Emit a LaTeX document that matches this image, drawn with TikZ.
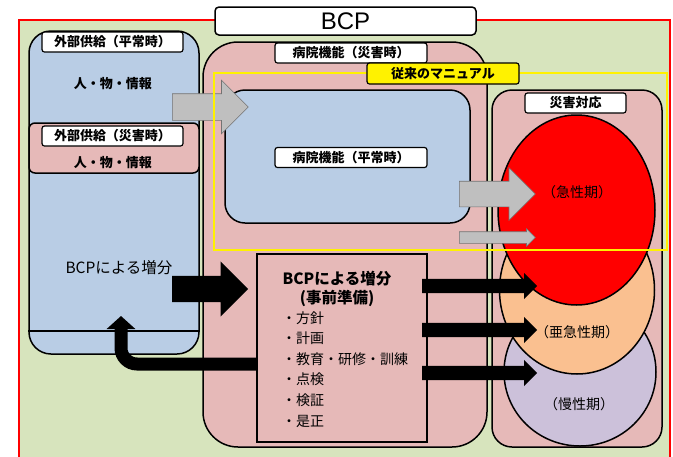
\documentclass[tikz,border=0pt]{standalone}
\usepackage{fontspec}
\setmainfont{Noto Sans CJK JP}
\newfontfamily\latinfont{Liberation Sans}
\usepackage{tikz}
\usetikzlibrary{positioning,%
  shapes.geometric,%
  shapes.arrows,%
  arrows.meta}

\definecolor{bggreen}{HTML}{D7E4BD}
\definecolor{panelblue}{HTML}{B9CDE5}
\definecolor{panelpink}{HTML}{E6B9B8}
\definecolor{acutered}{HTML}{FF0000}
\definecolor{subpeach}{HTML}{FAC090}
\definecolor{chronlilac}{HTML}{CCC1DA}
\definecolor{arrowgray}{HTML}{BFBFBF}

\begin{document}
\begin{tikzpicture}
                    [x=1pt, y=-1pt,
                    panel/.style={rectangle,
                        draw=black, line width=1.5pt,
                        inner sep=0pt},
                    tag/.style={rectangle,
                        rounded corners=2.5pt,
                        draw=black, line width=1.2pt,
                        fill=white, inner sep=0pt,
                        minimum height=20pt,
                        font=\fontsize{13}{15}\selectfont\bfseries},
                    phase/.style={ellipse,
                        draw=black, line width=1.5pt},
                    txt/.style={inner sep=0pt,
                        font=\fontsize{13}{15}\selectfont\bfseries},
                    phasetxt/.style={inner sep=0pt,
                        font=\fontsize{14}{16}\selectfont},
                    garrow/.style={single arrow,
                        single arrow head indent=0pt,
                        inner xsep=0pt, anchor=tail,
                        draw=black!55, line width=.6pt,
                        fill=arrowgray},
                    barrow/.style={single arrow,
                        single arrow head indent=0pt,
                        inner xsep=0pt, anchor=tail,
                        fill=black}]

                    \useasboundingbox (0,0) rectangle (673,456);
                    \clip (0,0) rectangle (673,456);
                    \draw[red, line width=1.5pt, fill=bggreen]
                        (19,20) rectangle (670,480);

                    % title
                    \node[panel, fill=white, rounded corners=4pt,
                        minimum width=261pt, minimum height=28pt,
                        font=\latinfont\fontsize{24}{26}\selectfont]
                        (title) at (345.5,21) {BCP};

                    % outside supply
                    \node[panel, fill=panelblue, rounded corners=22pt,
                        minimum width=170pt, minimum height=323pt]
                        (supply) at (114,192.5) {};
                    \draw[line width=1.5pt]
                        (supply.west |- 0,331) -- (supply.east |- 0,331);
                    \node[tag, minimum width=141pt]
                        (supnormtag) at (112.5,42) {外部供給（平常時）};
                    \node[txt] (supnorm) at (113,84) {人・物・情報};
                    \node[panel, fill=panelpink, rounded corners=6pt,
                        minimum width=170pt, minimum height=50pt]
                        (supdis) at (114,148) {};
                    \node[tag, minimum width=141pt]
                        (supdistag) at (112.5,136) {外部供給（災害時）};
                    \node[txt] (supdistxt) at (113,163) {人・物・情報};
                    \node[phasetxt, font=\fontsize{15.5}{17}\selectfont]
                        (supgain) at (119,268) {BCPによる増分};

                    % hospital
                    \node[panel, fill=panelpink, rounded corners=35pt,
                        minimum width=284pt, minimum height=405pt]
                        (hosp) at (345,244.5) {};
                    \node[tag, minimum width=152pt]
                        (hosptag) at (351,53) {病院機能（災害時）};
                    \node[panel, fill=panelblue, rounded corners=20pt,
                        minimum width=245pt, minimum height=133pt]
                        (normal) at (347.5,156.5) {};
                    \node[tag, minimum width=152pt]
                        (normaltag) at (351,157.5) {病院機能（平常時）};

                    % disaster response
                    \node[panel, fill=panelpink, rounded corners=20pt,
                        minimum width=170pt, minimum height=357pt]
                        (resp) at (577,268.5) {};
                    \node[tag, minimum width=101pt]
                        (resptag) at (575.5,103) {災害対応};
                    \node[phase, fill=chronlilac,
                        minimum width=152pt, minimum height=148pt]
                        (chronic) at (580,372) {};
                    \node[phase, fill=subpeach,
                        minimum width=155pt, minimum height=168pt]
                        (subacute) at (577,290) {};
                    \node[phase, fill=acutered,
                        minimum width=157pt, minimum height=190pt]
                        (acute) at (576.5,210) {};
                    \node[phasetxt] (acutetxt) at (577,192) {（急性期）};
                    \node[phasetxt] (subacutetxt) at (577,332) {（亜急性期）};
                    \node[phasetxt] (chronictxt) at (579,404) {（慢性期）};

                    % preparation
                    \node[panel, fill=panelpink,
                        minimum width=170pt, minimum height=188pt]
                        (prep) at (342,348) {};
                    \node[txt, align=center,
                        font=\fontsize{15.5}{19}\selectfont\bfseries]
                        (prephead) at (337,289) {BCPによる増分\\(事前準備)};
                    \node[inner sep=0pt, align=left, anchor=north west,
                        font=\fontsize{14}{20.6}\selectfont]
                        (preplist) at (282,311)
                        {・方針\\・計画\\・教育・研修・訓練\\・点検\\・検証\\・是正};

                    % arrows
                    \node[garrow, minimum height=76pt, inner ysep=13pt,
                        single arrow head extend=13.5pt]
                        (ginflow) at (172,107) {};
                    \node[barrow, minimum height=76pt, inner ysep=13pt,
                        single arrow head extend=14.5pt]
                        (binflow) at (172,289) {};
                    \coordinate (fbtip) at (121,316);
                    \draw[line width=13pt, rounded corners=16pt,
                        -{Triangle[width=28pt, length=13pt]}]
                        ([yshift=-16pt]prep.west) -- (121,364) -- (fbtip);
                    \node[garrow, minimum height=76pt, inner ysep=12.5pt,
                        single arrow head extend=13.5pt]
                        (gnormal) at (459,194) {};
                    \node[garrow, minimum height=76pt, inner ysep=5.5pt,
                        single arrow head extend=3pt]
                        (gthin) at (459,237.5) {};
                    \foreach \yy/\nm in {286/ba, 330/bb, 373/bc}
                        \node[barrow, minimum height=115pt, inner ysep=7pt,
                            single arrow head extend=6pt]
                            (\nm) at (422,\yy) {};

                    % conventional manual
                    \node[rectangle, draw=yellow, line width=2pt,
                        minimum width=453pt, minimum height=177pt]
                        (manual) at (440.5,161.5) {};
                    \node[tag, fill=yellow, minimum width=152pt, minimum height=21pt]
                        (manualtag) at (443,73.5) {従来のマニュアル};
                \end{tikzpicture}
\end{document}
